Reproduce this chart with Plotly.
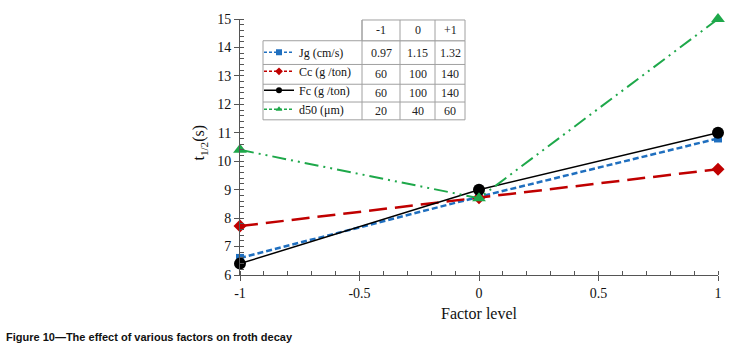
import plotly.graph_objects as go

# ---- data ----
factor_levels = [-1, 0, 1]
jg_values = [6.6, 8.75, 10.8]
cc_values = [7.72, 8.72, 9.72]
fc_values = [6.4, 9.0, 11.0]
d50_values = [10.4, 8.7, 15.0]
series_names = ["Jg (cm/s)", "Cc (g /ton)", "Fc (g /ton)", "d50 (μm)"]
table_header = ["-1", "0", "+1"]
table_rows = [
    ["0.97", "1.15", "1.32"],
    ["60", "100", "140"],
    ["60", "100", "140"],
    ["20", "40", "60"],
]
x_ticks = [-1, -0.5, 0, 0.5, 1]
x_tick_labels = ["-1", "-0.5", "0", "0.5", "1"]
y_ticks = list(range(6, 16))

W, H = 740, 351
L, R, T, B = 240, 718, 16, 275  # plot area pixels

def px(x):
    return (x - L) / (R - L)

def py(y):
    return (B - y) / (B - T)

SERIF = "Liberation Serif"

fig = go.Figure()
styles = [
    dict(color="#1F6FBF", dash="6px,3px", width=2.5, symbol="square", size=8),
    dict(color="#C00000", dash="18px,8px", width=2.5, symbol="diamond", size=10),
    dict(color="#000000", dash="solid", width=1.5, symbol="circle", size=12),
    dict(color="#1EA84A", dash="14px,5px,2px,5px,2px,5px", width=2, symbol="triangle-up", size=12),
]
for name, vals, st in zip(series_names, [jg_values, cc_values, fc_values, d50_values], styles):
    fig.add_trace(go.Scatter(
        x=factor_levels, y=vals, name=name, mode="lines+markers", showlegend=False,
        line=dict(color=st["color"], dash=st["dash"], width=st["width"]),
        marker=dict(color=st["color"], symbol=st["symbol"], size=st["size"]),
        cliponaxis=False,
    ))
# legend keys (small markers, as in the reference's table legend)
for name, st in zip(series_names, styles):
    fig.add_trace(go.Scatter(
        x=[None], y=[None], name=name, mode="lines+markers", showlegend=True,
        line=dict(color=st["color"], dash="3px,2px" if st["dash"] != "solid" else "solid", width=1.5),
        marker=dict(color=st["color"], symbol=st["symbol"], size=6),
    ))

shapes = []
line_col = "#A0A0A0"
tx0, tx1 = 263, 465
col_x = [362, 400, 435, 465]
row_y = [17, 38, 62, 82, 100, 118]
shapes.append(dict(type="rect", xref="paper", yref="paper", x0=px(tx0), x1=px(tx1), y0=py(row_y[1]), y1=py(row_y[-1]),
                   line=dict(color=line_col, width=1), fillcolor="white", layer="below"))
shapes.append(dict(type="rect", xref="paper", yref="paper", x0=px(col_x[0]), x1=px(tx1), y0=py(row_y[0]), y1=py(row_y[1]),
                   line=dict(color=line_col, width=1), fillcolor="white", layer="below"))
for cx in col_x[:-1]:
    shapes.append(dict(type="line", xref="paper", yref="paper", x0=px(cx), x1=px(cx), y0=py(row_y[0]), y1=py(row_y[-1]),
                       line=dict(color=line_col, width=1), layer="below"))
for ry in row_y[2:-1]:
    shapes.append(dict(type="line", xref="paper", yref="paper", x0=px(tx0), x1=px(tx1), y0=py(ry), y1=py(ry),
                       line=dict(color=line_col, width=1), layer="below"))

annotations = []
all_rows = [table_header] + table_rows
for ri, row in enumerate(all_rows):
    yc = (row_y[ri] + row_y[ri + 1]) / 2
    for ci, txt in enumerate(row):
        xc = (col_x[ci] + col_x[ci + 1]) / 2
        annotations.append(dict(x=px(xc), y=py(yc), xref="paper", yref="paper", text=txt, showarrow=False,
                                font=dict(family=SERIF, size=12, color="#222"), xanchor="center", yanchor="middle"))

annotations.append(dict(x=px(200), y=py(141), xref="paper", yref="paper", text="t<sub>1/2</sub>(s)",
                        textangle=-90, showarrow=False, font=dict(family=SERIF, size=16, color="#111"),
                        xanchor="center", yanchor="middle"))
annotations.append(dict(x=px(4), y=py(338), xref="paper", yref="paper",
                        text="<b>Figure 10\u2014The effect of various factors on froth decay</b>", showarrow=False,
                        font=dict(family="Liberation Sans", size=11, color="#111"), xanchor="left", yanchor="middle"))

fig.update_layout(
    width=W, height=H,
    margin=dict(l=L, r=W - R, t=T, b=H - B),
    paper_bgcolor="white", plot_bgcolor="white",
    font=dict(family=SERIF, color="#111"),
    shapes=shapes, annotations=annotations,
    showlegend=True,
    legend=dict(x=px(259), y=py(35), xanchor="left", yanchor="top", bgcolor="rgba(0,0,0,0)",
                font=dict(family=SERIF, size=12, color="#111"), tracegroupgap=0, itemwidth=30),
    xaxis=dict(range=[-1, 1], tickvals=x_ticks, ticktext=x_tick_labels, showgrid=False, zeroline=False,
               showline=True, linecolor="#555", linewidth=1, ticks="outside", ticklen=5, tickcolor="#555",
               minor=dict(dtick=0.1, ticks="inside", ticklen=4, tickcolor="#555"),
               tickfont=dict(family=SERIF, size=14), title=dict(text="Factor level", font=dict(family=SERIF, size=16), standoff=8)),
    yaxis=dict(range=[6, 15], tickvals=y_ticks, showgrid=False, zeroline=False,
               showline=True, linecolor="#555", linewidth=1, ticks="outside", ticklen=5, tickcolor="#555",
               minor=dict(dtick=0.2, ticks="inside", ticklen=4, tickcolor="#555"),
               tickfont=dict(family=SERIF, size=14)),
)

fig.write_html("out.html", config={"displayModeBar": False}, post_script="document.body.style.margin='0';")
